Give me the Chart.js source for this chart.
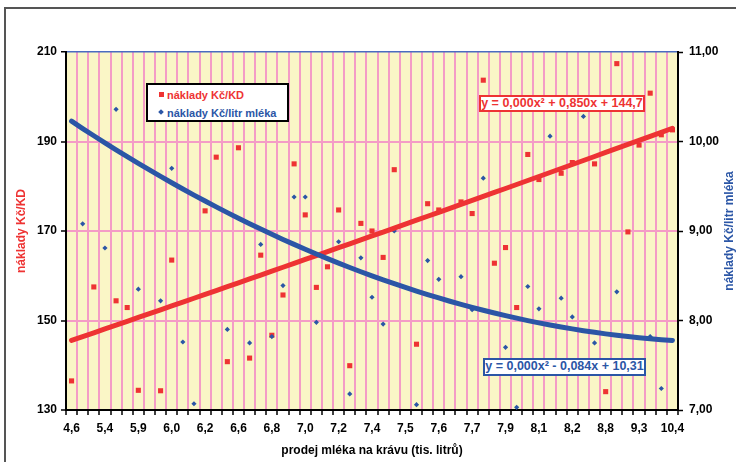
<!DOCTYPE html>
<html>
<head>
<meta charset="utf-8">
<script src="https://cdn.jsdelivr.net/npm/chart.js@4.4.0/dist/chart.umd.min.js"></script>
<style>
  html, body { margin: 0; padding: 0; background: #fff; }
  #wrap { position: relative; width: 736px; height: 462px; overflow: hidden; font-family: "Liberation Sans", Arial, sans-serif; }
  #chart { position: absolute; left: 0; top: 0; }
  .legend { position: absolute; left: 146px; top: 83px; width: 143px; height: 39px; box-sizing: border-box; border: 2px solid #000; background: #fff; font-weight: bold; font-size: 11px; }
  .legend .txt { position: absolute; left: 19px; white-space: nowrap; line-height: 14px; }
  .legend .mk { position: absolute; }
  .eq { position: absolute; box-sizing: border-box; background: #fff; font-weight: bold; font-size: 12.5px; line-height: 13px; text-align: center; white-space: nowrap; }
</style>
</head>
<body>
<div id="wrap">
  <canvas id="chart" width="736" height="462"></canvas>
  <div class="legend">
    <div class="mk" style="left:11px; top:7px; width:5px; height:5px; background:#EE3333;"></div>
    <div class="txt" style="top:3px; color:#EE3333;">náklady Kč/KD</div>
    <div class="mk" style="left:11px; top:25px; width:4px; height:4px; background:#2B56A6; transform:rotate(45deg);"></div>
    <div class="txt" style="top:21px; color:#2B56A6;">náklady Kč/litr mléka</div>
  </div>
  <div class="eq" style="left:479px; top:95px; width:166px; height:17px; border:2px solid #EE3333; color:#EE3333;">y = 0,000x² + 0,850x + 144,7</div>
  <div class="eq" style="left:483px; top:358px; width:163px; height:18px; border:2px solid #2B56A6; color:#2B56A6;">y = 0,000x² - 0,084x + 10,31</div>
</div>
<script>
// x axis: farms sorted by milk sold per cow, label shown on every third farm
const tickLabels = ['4,6', '5,4', '5,9', '6,0', '6,2', '6,6', '6,8', '7,0', '7,2', '7,4',
                    '7,5', '7,6', '7,7', '7,9', '8,1', '8,2', '8,8', '9,3', '10,4'];
const farms = Array.from({ length: 55 }, (_, i) => i + 1);

// náklady Kč/KD (left axis)
const costPerCow = [
  136.5, null, 157.5, null, 154.4, 152.9, 134.4, null, 134.3, 163.5,
  null, null, 174.5, 186.5, 140.8, 188.6, 141.6, 164.6, 146.7, 155.7,
  185.0, 173.6, 157.4, 162.0, 174.7, 139.9, 171.7, 170.0, 164.1, 183.7,
  null, 144.7, 176.1, 174.7, null, 176.5, 173.9, 203.7, 162.8, 166.3,
  152.9, 187.1, 181.5, null, 182.9, 185.3, null, 185.0, 134.1, 207.4,
  169.8, 189.2, 200.8, 191.5, 192.6
];

// náklady Kč/litr mléka (right axis)
const costPerLitre = [
  null, 9.08, null, 8.81, 10.36, null, 8.35, null, 8.22, 9.70,
  7.76, 7.07, null, null, 7.90, null, 7.75, 8.85, 7.82, 8.39,
  9.38, 9.38, 7.98, null, 8.88, 7.18, 8.70, 8.26, 7.96, 9.00,
  null, 7.06, 8.67, 8.46, null, 8.49, 8.12, 9.59, null, 7.70,
  7.03, 8.38, 8.13, 10.06, 8.25, 8.04, 10.28, 7.75, null, 8.32,
  null, null, 7.82, 7.24, null
];

// polynomial trend coefficients [x², x, 1] as labelled on the chart
// (x² term is printed as 0,000; its small value is read from the curve)
const trendCostPerCow = [0.0005, 0.850, 144.7];
const trendCostPerLitre = [0.00069, -0.084, 10.31];

const leftTicks = [130, 150, 170, 190, 210];
const rightTicks = [7, 8, 9, 10, 11];

const RED = '#EE3333';
const BLUE = '#2B56A6';
const PINK = '#F49CC6';
const FONT = 'Liberation Sans';

const trend = c => farms.map(x => c[0] * x * x + c[1] * x + c[2]);

const tickFont = { family: FONT, size: 12, weight: 'bold' };

const framePlugin = {
  id: 'frame',
  beforeDraw(chart) {
    const { ctx, chartArea: a } = chart;
    ctx.save();
    ctx.fillStyle = '#fff';
    ctx.fillRect(0, 0, chart.width, chart.height);
    ctx.strokeStyle = '#555';
    ctx.lineWidth = 2;
    ctx.strokeRect(5, 8, 900, 700);
    ctx.fillStyle = '#FAF6C6';
    ctx.fillRect(a.left, a.top, a.right - a.left, a.bottom - a.top);
    ctx.restore();
  },
  afterDraw(chart) {
    const { ctx, chartArea: a } = chart;
    ctx.save();
    ctx.translate(730, (a.top + a.bottom) / 2);
    ctx.rotate(-Math.PI / 2);
    ctx.fillStyle = BLUE;
    ctx.font = 'bold 12px "' + FONT + '"';
    ctx.textAlign = 'center';
    ctx.textBaseline = 'middle';
    ctx.fillText('náklady Kč/litr mléka', 0, 0);
    ctx.restore();
  }
};

new Chart(document.getElementById('chart'), {
  type: 'line',
  data: {
    labels: farms,
    datasets: [
      {
        label: 'trend Kč/litr',
        data: trend(trendCostPerLitre),
        yAxisID: 'y2',
        borderColor: BLUE,
        borderWidth: 5,
        borderCapStyle: 'round',
        pointRadius: 0,
        order: 0
      },
      {
        label: 'trend Kč/KD',
        data: trend(trendCostPerCow),
        yAxisID: 'y',
        borderColor: RED,
        borderWidth: 5,
        borderCapStyle: 'round',
        pointRadius: 0,
        order: 1
      },
      {
        label: 'náklady Kč/litr mléka',
        data: costPerLitre,
        yAxisID: 'y2',
        showLine: false,
        pointStyle: 'rectRot',
        pointRadius: 2.6,
        backgroundColor: BLUE,
        borderWidth: 0,
        order: 2
      },
      {
        label: 'náklady Kč/KD',
        data: costPerCow,
        yAxisID: 'y',
        showLine: false,
        pointStyle: 'rect',
        pointRadius: 3.6,
        backgroundColor: RED,
        borderWidth: 0,
        order: 3
      }
    ]
  },
  options: {
    responsive: false,
    animation: false,
    layout: { padding: { top: 52, left: 0, right: 0, bottom: 0 } },
    plugins: { legend: { display: false }, tooltip: { enabled: false } },
    scales: {
      x: {
        offset: true,
        grid: { offset: true, color: PINK, lineWidth: 2, tickColor: '#000', tickLength: 5, tickWidth: 1.5 },
        border: { color: '#000', width: 2 },
        ticks: {
          autoSkip: false, maxRotation: 0, minRotation: 0, padding: 6,
          color: '#000', font: tickFont,
          callback: (v, i) => (i % 3 === 0 ? tickLabels[i / 3] : '')
        },
        title: {
          display: true, text: 'prodej mléka na krávu (tis. litrů)', color: '#000',
          font: tickFont, padding: { top: 0, bottom: 4 }
        },
        afterFit: s => { s.height = 52; }
      },
      y: {
        position: 'left',
        min: leftTicks[0],
        max: leftTicks[leftTicks.length - 1],
        afterBuildTicks: s => { s.ticks = leftTicks.map(v => ({ value: v })); },
        grid: {
          color: c => (c.tick && c.tick.value === 210 ? '#4A6CC0' : PINK),
          lineWidth: c => (c.tick && c.tick.value === 210 ? 1.5 : 2),
          tickColor: '#000', tickLength: 5, tickWidth: 1.5
        },
        border: { color: '#000', width: 2 },
        ticks: { padding: 4, color: '#000', font: tickFont },
        title: {
          display: true, text: 'náklady Kč/KD', color: RED,
          font: tickFont, padding: { top: 14, bottom: 0 }
        },
        afterFit: s => { s.width = 66; }
      },
      y2: {
        position: 'right',
        min: rightTicks[0],
        max: rightTicks[rightTicks.length - 1],
        afterBuildTicks: s => { s.ticks = rightTicks.map(v => ({ value: v })); },
        grid: { drawOnChartArea: false, tickColor: '#000', tickLength: 5, tickWidth: 1.5 },
        border: { color: '#000', width: 2 },
        ticks: {
          padding: 6, color: '#000', font: tickFont,
          callback: v => v.toFixed(2).replace('.', ',')
        },
        afterFit: s => { s.width = 58; }
      }
    }
  },
  plugins: [framePlugin]
});
</script>
</body>
</html>
